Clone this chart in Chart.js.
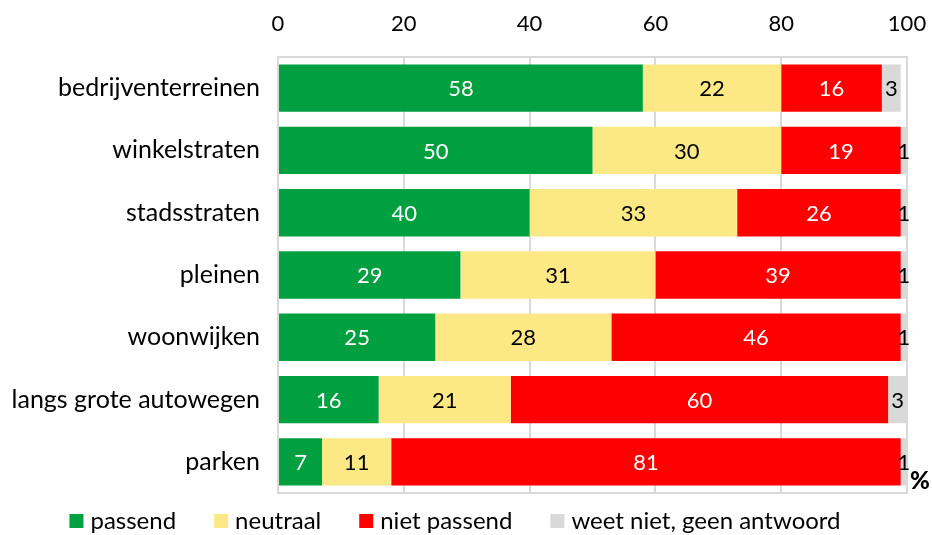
<!DOCTYPE html>
<html>
<head>
<meta charset="utf-8">
<script src="https://cdn.jsdelivr.net/npm/chart.js@4"></script>
<style>
  html, body { margin: 0; padding: 0; background: #fff; }
  #wrap { width: 932px; height: 535px; }
</style>
</head>
<body>
<div id="wrap"><canvas id="grafiek"></canvas></div>
<script>
const plekken = ["bedrijventerreinen", "winkelstraten", "stadsstraten", "pleinen", "woonwijken", "langs grote autowegen", "parken"];
const passend = [58, 50, 40, 29, 25, 16, 7];
const neutraal = [22, 30, 33, 31, 28, 21, 11];
const nietPassend = [16, 19, 26, 39, 46, 60, 81];
const weetNiet = [3, 1, 1, 1, 1, 3, 1];
const xTicks = [0, 20, 40, 60, 80, 100];

const FONT = "Lato, 'Open Sans', sans-serif";

const reeksen = [
  { label: "passend", data: passend, kleur: "#00A040", tekst: "#ffffff" },
  { label: "neutraal", data: neutraal, kleur: "#FCE985", tekst: "#000000" },
  { label: "niet passend", data: nietPassend, kleur: "#FF0000", tekst: "#ffffff" },
  { label: "weet niet, geen antwoord", data: weetNiet, kleur: "#D9D9D9", tekst: "#000000" }
];

// rand om het plotgebied
const kader = {
  id: "kader",
  beforeDatasetsDraw(chart) {
    const a = chart.chartArea;
    const ctx = chart.ctx;
    ctx.save();
    ctx.strokeStyle = "#D9D9D9";
    ctx.lineWidth = 2;
    ctx.strokeRect(a.left, a.top, a.right - a.left, a.bottom - a.top);
    ctx.restore();
  }
};

// waarden in de balken + % teken
const labels = {
  id: "labels",
  afterDatasetsDraw(chart) {
    const ctx = chart.ctx;
    ctx.save();
    ctx.font = "22px " + FONT;
    ctx.textAlign = "center";
    ctx.textBaseline = "middle";
    chart.data.datasets.forEach((ds, i) => {
      const meta = chart.getDatasetMeta(i);
      meta.data.forEach((bar, j) => {
        const v = ds.data[j];
        const x = (bar.x + bar.base) / 2;
        ctx.fillStyle = reeksen[i].tekst;
        ctx.fillText(String(v), x, bar.y + 1);
      });
    });
    const a = chart.chartArea;
    ctx.font = "900 24px " + FONT;
    ctx.textAlign = "left";
    ctx.fillStyle = "#000";
    ctx.fillText("%", a.right + 3, a.bottom - 12);
    ctx.restore();
  }
};

// legenda onderaan, zelf getekend
const legenda = {
  id: "legenda",
  afterDraw(chart) {
    const ctx = chart.ctx;
    ctx.save();
    ctx.font = "24px " + FONT;
    ctx.textBaseline = "middle";
    const box = 14, gat = 7, tussen = 38;
    const items = chart.data.datasets.map(ds => ({ t: ds.label, k: ds.backgroundColor, w: ctx.measureText(ds.label).width }));
    let totaal = 0;
    items.forEach((it, i) => { totaal += box + gat + it.w + (i < items.length - 1 ? tussen : 0); });
    let x = 455 - totaal / 2;
    const y = 521;
    items.forEach(it => {
      ctx.fillStyle = it.k;
      ctx.fillRect(x, y - 7, box, box);
      ctx.fillStyle = "#000";
      ctx.fillText(it.t, x + box + gat, y);
      x += box + gat + it.w + tussen;
    });
    ctx.restore();
  }
};

new Chart(document.getElementById("grafiek"), {
  type: "bar",
  data: {
    labels: plekken,
    datasets: reeksen.map(r => ({
      label: r.label,
      data: r.data,
      backgroundColor: r.kleur,
      borderWidth: 0,
      barPercentage: 0.76,
      categoryPercentage: 1
    }))
  },
  options: {
    indexAxis: "y",
    responsive: true,
    maintainAspectRatio: false,
    animation: false,
    layout: { padding: { left: 10, right: 25, top: 8, bottom: 42 } },
    plugins: {
      legend: { display: false },
      tooltip: { enabled: false }
    },
    scales: {
      x: {
        stacked: true,
        position: "top",
        min: 0,
        max: 100,
        afterBuildTicks: s => { s.ticks = xTicks.map(v => ({ value: v })); },
        ticks: { font: { family: FONT, size: 22 }, color: "#000", padding: 20 },
        grid: { color: "#D9D9D9", lineWidth: 2, drawTicks: false },
        border: { display: false },
        afterFit: s => { s.height = 49; s.paddingRight = 0; s.paddingLeft = 0; }
      },
      y: {
        stacked: true,
        ticks: { font: { family: FONT, size: 25 }, color: "#000", padding: 18 },
        grid: { display: false, drawTicks: false },
        border: { display: false },
        afterFit: s => { s.width = 268; }
      }
    }
  },
  plugins: [kader, labels, legenda]
});
</script>
</body>
</html>
